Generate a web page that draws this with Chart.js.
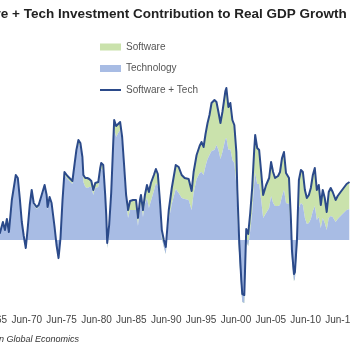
<!DOCTYPE html>
<html><head><meta charset="utf-8">
<script src="https://cdn.jsdelivr.net/npm/chart.js@4"></script>
<style>
html,body{margin:0;padding:0;width:350px;height:350px;overflow:hidden;background:#fff;}
#wrap{position:absolute;left:-62px;top:0;width:422px;height:350px;}
#src{position:absolute;left:-1px;top:334px;line-height:10px;font:italic 9px "Liberation Sans",Arial,sans-serif;color:#333;white-space:nowrap;}
</style></head><body>
<div id="wrap"><canvas id="c"></canvas></div>
<div id="src">n Global Economics</div>
<script>
// Decimal-year dates of the plotted observations
const dates = [1965.09,1965.66,1966.23,1966.65,1967.08,1967.37,1967.65,1967.94,1968.36,1968.93,1969.22,1969.50,1969.79,1970.07,1970.36,1970.64,1970.93,1971.21,1971.50,1971.92,1972.21,1972.64,1973.06,1973.35,1973.49,1973.78,1974.06,1974.49,1974.77,1975.06,1975.34,1975.63,1975.91,1976.34,1976.77,1977.05,1977.34,1977.62,1977.91,1978.19,1978.48,1978.62,1978.90,1979.19,1979.47,1979.76,1980.04,1980.33,1980.76,1981.04,1981.18,1981.47,1981.75,1981.90,1982.04,1982.32,1982.61,1982.89,1983.04,1983.32,1983.61,1983.89,1984.18,1984.46,1984.75,1985.03,1985.31,1985.74,1986.17,1986.45,1986.74,1986.88,1987.17,1987.45,1987.74,1988.02,1988.31,1988.73,1989.02,1989.30,1989.59,1989.87,1990.16,1990.44,1990.73,1990.87,1991.30,1991.87,1992.29,1992.72,1993.15,1993.72,1994.15,1994.43,1994.86,1995.29,1995.57,1995.86,1996.14,1996.43,1996.71,1997.00,1997.42,1997.71,1997.99,1998.28,1998.56,1998.99,1999.13,1999.42,1999.70,1999.99,2000.27,2000.56,2000.70,2000.98,2001.27,2001.41,2001.70,2001.84,2001.98,2002.26,2002.55,2002.83,2003.12,2003.26,2003.55,2003.83,2004.12,2004.40,2004.83,2005.26,2005.54,2005.83,2006.11,2006.54,2006.82,2007.11,2007.39,2007.68,2008.11,2008.39,2008.53,2008.82,2008.96,2009.25,2009.53,2009.82,2010.10,2010.39,2010.67,2010.96,2011.24,2011.53,2011.81,2012.10,2012.38,2012.67,2012.95,2013.24,2013.52,2013.81,2014.09,2014.38,2014.80,2015.09,2015.51,2015.94,2016.37,2016.79];
// Software + Tech (total contribution, pp)
const total = [0.12,0.04,0.14,0.07,0.18,0.10,0.21,0.08,0.40,0.65,0.62,0.42,0.18,0.04,-0.08,0.12,0.35,0.50,0.37,0.33,0.35,0.45,0.55,0.45,0.33,0.43,0.37,0.13,-0.05,-0.18,0.02,0.40,0.68,0.64,0.61,0.59,0.75,0.90,1.00,0.97,0.83,0.65,0.62,0.62,0.61,0.59,0.50,0.57,0.58,0.72,0.77,0.75,0.45,0.25,-0.03,0.15,0.47,0.95,1.20,1.14,1.16,1.18,1.03,0.75,0.45,0.30,0.39,0.40,0.40,0.22,0.40,0.45,0.30,0.45,0.55,0.48,0.57,0.65,0.71,0.66,0.40,0.10,0.00,-0.07,0.18,0.30,0.52,0.75,0.73,0.65,0.62,0.61,0.49,0.68,0.85,0.94,0.98,0.93,1.06,1.17,1.25,1.37,1.40,1.38,1.28,1.17,1.28,1.49,1.52,1.33,1.37,1.20,1.15,0.88,0.50,-0.03,-0.40,-0.54,-0.55,-0.22,0.11,0.06,0.27,0.52,0.90,1.05,0.92,0.90,0.68,0.45,0.55,0.62,0.78,0.68,0.62,0.64,0.68,0.82,0.88,0.67,0.62,0.20,-0.10,-0.34,-0.32,0.00,0.60,0.70,0.68,0.50,0.42,0.45,0.52,0.65,0.72,0.50,0.55,0.35,0.50,0.42,0.28,0.48,0.52,0.48,0.40,0.44,0.48,0.52,0.56,0.58];
// Software component (pp)
const software = [0.01,0.01,0.01,0.01,0.01,0.01,0.01,0.01,0.01,0.02,0.02,0.02,0.02,0.01,0.01,0.01,0.02,0.02,0.02,0.02,0.02,0.02,0.03,0.03,0.03,0.03,0.03,0.03,0.02,0.02,0.02,0.03,0.03,0.03,0.03,0.03,0.04,0.04,0.04,0.04,0.05,0.07,0.09,0.10,0.08,0.06,0.05,0.05,0.05,0.06,0.06,0.06,0.05,0.05,0.05,0.06,0.07,0.08,0.09,0.11,0.09,0.08,0.07,0.07,0.07,0.08,0.09,0.10,0.10,0.08,0.08,0.08,0.07,0.09,0.13,0.16,0.18,0.16,0.14,0.12,0.10,0.08,0.07,0.07,0.08,0.10,0.16,0.24,0.26,0.23,0.21,0.21,0.19,0.21,0.24,0.27,0.30,0.28,0.32,0.36,0.40,0.48,0.50,0.43,0.38,0.36,0.40,0.48,0.50,0.43,0.46,0.40,0.38,0.33,0.26,0.16,0.10,0.08,0.08,0.10,0.12,0.12,0.18,0.24,0.33,0.38,0.36,0.34,0.28,0.23,0.28,0.30,0.34,0.31,0.28,0.30,0.33,0.38,0.38,0.30,0.26,0.16,0.10,0.07,0.07,0.10,0.28,0.33,0.33,0.28,0.26,0.28,0.31,0.36,0.38,0.30,0.32,0.23,0.28,0.25,0.18,0.26,0.28,0.25,0.22,0.23,0.24,0.25,0.26,0.27];
const tickYears = [1965.5,1970.5,1975.5,1980.5,1985.5,1990.5,1995.5,2000.5,2005.5,2010.5,2015.5];
const tickLabels = ['Jun-65','Jun-70','Jun-75','Jun-80','Jun-85','Jun-90','Jun-95','Jun-00','Jun-05','Jun-10','Jun-15'];
const legendOrder = ['Software','Technology','Software + Tech'];

const technology = total.map((t, i) => +(t - software[i]).toFixed(2));
const pts = arr => dates.map((d, i) => ({x: d, y: arr[i]}));

// Place the legend inside the plot and centre the title on the full canvas
const placeBoxes = {
  id: 'placeBoxes',
  afterLayout(chart) {
    const lg = chart.legend;
    const w = lg.width, h = lg.height;
    lg.left = 150.5; lg.top = 30.5;
    lg.right = lg.left + w; lg.bottom = lg.top + h;
    const tb = chart.titleBlock;
    tb.left = 0; tb.right = chart.width; tb.width = chart.width;
  }
};

new Chart(document.getElementById('c'), {
  type: 'line',
  data: {
    datasets: [
      {label: 'Software + Tech', data: pts(total), stack: 'total', borderColor: '#2b4a8a', backgroundColor: '#2b4a8a',
       borderWidth: 2, pointRadius: 0, fill: false, tension: 0, pointStyle: 'line', borderJoinStyle: 'round'},
      {label: 'Technology', data: pts(technology), stack: 'parts', borderWidth: 0, borderColor: 'rgba(0,0,0,0)',
       backgroundColor: 'rgb(168,188,228)', pointRadius: 0, fill: 'origin', tension: 0, pointStyle: 'rect'},
      {label: 'Software', data: pts(software), stack: 'parts', borderWidth: 0, borderColor: 'rgba(0,0,0,0)',
       backgroundColor: 'rgb(202,226,172)', pointRadius: 0, fill: '-1', tension: 0, pointStyle: 'rect'}
    ]
  },
  options: {
    responsive: true, maintainAspectRatio: false, animation: false,
    layout: {padding: {left: 50.4, right: 6.5, top: 0, bottom: 20}},
    scales: {
      x: {type: 'linear', min: 1965.0, max: 2017.0,
          grid: {display: false, drawTicks: false}, border: {display: false},
          afterBuildTicks: s => { s.ticks = tickYears.map(v => ({value: v})); },
          ticks: {padding: 4, maxRotation: 0, autoSkip: false, color: '#444',
                  font: {family: '"Liberation Sans Narrow","Arial Narrow","Liberation Sans",Arial,sans-serif', size: 10},
                  callback: (v, i) => tickLabels[i]}},
      y: {display: false, stacked: 'single', min: -0.7, max: 1.6}
    },
    plugins: {
      title: {display: true, text: 'Software + Tech Investment Contribution to Real GDP Growth',
              color: '#222', font: {family: '"Liberation Sans",Arial,sans-serif', size: 13.5, weight: 'bold'},
              padding: {top: 6, bottom: 57.8}},
      legend: {position: 'chartArea', align: 'start',
               labels: {usePointStyle: true, pointStyleWidth: 21, boxHeight: 7, padding: 11.5, color: '#555',
                        font: {family: '"Liberation Sans",Arial,sans-serif', size: 10},
                        sort: (a, b) => legendOrder.indexOf(a.text) - legendOrder.indexOf(b.text)}},
      tooltip: {enabled: false}
    }
  },
  plugins: [placeBoxes]
});
</script>
</body></html>
